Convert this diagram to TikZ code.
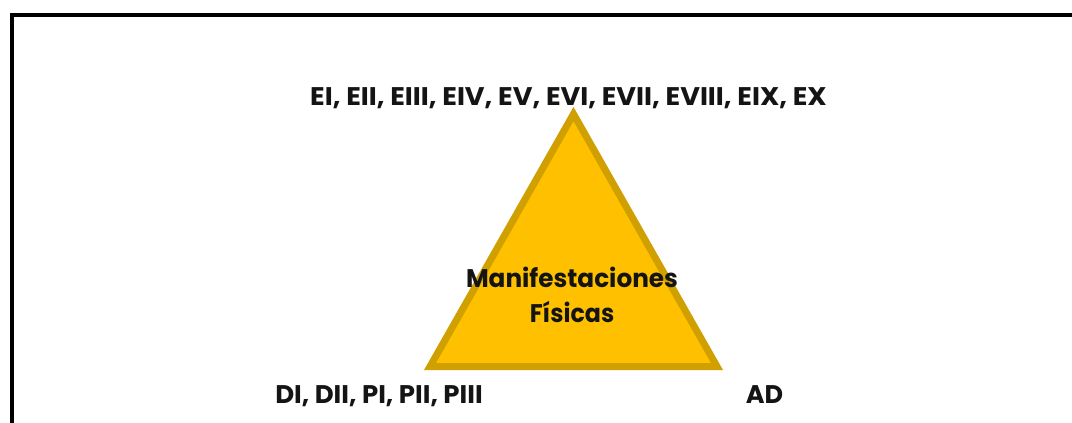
\documentclass[tikz,border=0pt]{standalone}
\usepackage{fontspec}
\setmainfont{Poppins}
\definecolor{gold}{HTML}{FFC000}
\definecolor{goldedge}{HTML}{D0A000}
\begin{document}
\begin{tikzpicture}[x=1pt,y=-1pt,
  lbl/.style={font=\bfseries\fontsize{25.5}{30}\selectfont, anchor=base, inner sep=0pt, text=black!92}]
\useasboundingbox (0,0) rectangle (1072,423);
\fill[white] (0,0) rectangle (1072,423);
\begin{scope}
\clip (0,0) rectangle (1072,423);
\draw[line width=4pt] (12,15) rectangle (1090,440);
\end{scope}
\coordinate (apex) at (573.5,114);
\coordinate (bl) at (430,366.5);
\coordinate (br) at (717,366.5);
\filldraw[fill=gold, draw=goldedge, line width=7pt, line join=miter] (apex) -- (br) -- (bl) -- cycle;
\node[lbl] (top) at (568.5,105) {\scalebox{1.06}[1]{EI, EII, EIII, EIV, EV, EVI, EVII, EVIII, EIX, EX}};
\node[lbl] (m1) at (572,287) {\scalebox{0.97}[1]{Manifestaciones}};
\node[lbl] (m2) at (572,322) {\scalebox{0.93}[1]{Físicas}};
\node[lbl] (left) at (379,403) {\scalebox{1.02}[1]{DI, DII, PI, PII, PIII}};
\node[lbl] (right) at (764.5,403) {AD};
\end{tikzpicture}
\end{document}
